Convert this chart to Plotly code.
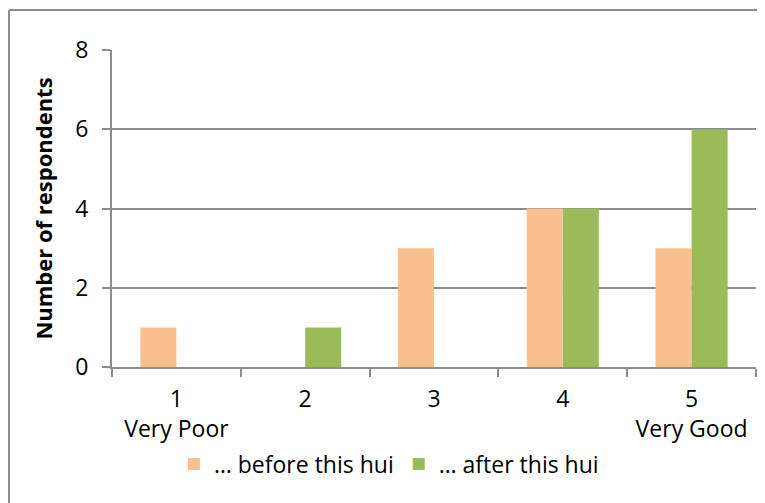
import plotly.graph_objects as go

categories = ["1", "2", "3", "4", "5"]
tick_labels = ["1<br>Very Poor", "2", "3", "4", "5<br>Very Good"]
before_vals = [1, 0, 3, 4, 3]
after_vals = [0, 1, 0, 4, 6]

# page body has an 8px margin, so the figure is a little smaller than the window
W, H = 757, 495
L, R, T, B = 104, 9, 42, 136

fig = go.Figure()
fig.add_trace(go.Bar(x=categories, y=before_vals, name="… before this hui",
                     marker=dict(color="#FAC090", line=dict(width=0))))
fig.add_trace(go.Bar(x=categories, y=after_vals, name="… after this hui",
                     marker=dict(color="#9BBB59", line=dict(width=0))))

pw = W - L - R
ph = H - T - B
fx0 = (1 - L) / pw
fy1 = (ph + T - 2) / ph
# chart frame: only the top and left edges show in the picture
fig.add_shape(type="line", xref="paper", yref="paper",
              x0=fx0, x1=fx0, y0=-B / ph, y1=fy1,
              line=dict(color="#8C8C8C", width=2), layer="below")
fig.add_shape(type="line", xref="paper", yref="paper",
              x0=fx0, x1=(W - L) / pw, y0=fy1, y1=fy1,
              line=dict(color="#8C8C8C", width=2), layer="below")

fig.update_layout(
    width=W, height=H,
    margin=dict(l=L, r=R, t=T, b=B, autoexpand=False),
    paper_bgcolor="white", plot_bgcolor="white",
    font=dict(family="Open Sans, Liberation Sans, sans-serif", size=23, color="black"),
    barmode="group", bargap=0.44, bargroupgap=0,
    showlegend=True,
    legend=dict(orientation="h", x=0.43, xanchor="center", y=-0.238, yanchor="top",
                font=dict(size=23), traceorder="normal"),
    xaxis=dict(type="category", tickvals=categories, ticktext=tick_labels,
               showline=True, linecolor="#8C8C8C", linewidth=2,
               ticks="outside", tickson="boundaries", ticklen=8,
               tickcolor="#8C8C8C", tickwidth=2, showgrid=False,
               tickfont=dict(size=23), automargin=False, ticklabelstandoff=10),
    yaxis=dict(range=[0, 8], dtick=2, showline=True, linecolor="#8C8C8C", linewidth=2,
               ticks="outside", ticklen=8, tickcolor="#8C8C8C", tickwidth=2,
               showgrid=True, gridcolor="#8C8C8C", gridwidth=2, zeroline=False,
               tickfont=dict(size=23), automargin=False, ticklabelstandoff=9,
               title=dict(text="<b>Number of respondents</b>", font=dict(size=22),
                          standoff=17)),
)

fig.write_html("out.html")
